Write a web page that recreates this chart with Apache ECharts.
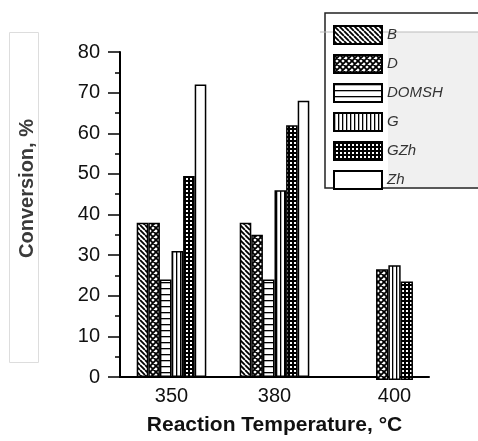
<!DOCTYPE html>
<html>
<head>
<meta charset="utf-8">
<script src="https://cdn.jsdelivr.net/npm/echarts@6/dist/echarts.min.js"></script>
<style>
  html, body { margin: 0; padding: 0; background: #fff; }
  #chart { width: 478px; height: 441px; }
</style>
</head>
<body>
<div id="chart"></div>
<script>
// data
const temps = ['350', '380', '400']
const seriesNames = ['B', 'D', 'DOMSH', 'G', 'GZh', 'Zh']
const valB = [38, 38, null]
const valD = [38, 35, 27]
const valDOMSH = [24, 24, null]
const valG = [31, 46, 28]
const valGZh = [49.5, 62, 24]
const valZh = [72, 68, null]
const yTicks = [0, 10, 20, 30, 40, 50, 60, 70, 80]

const allValues = [valB, valD, valDOMSH, valG, valGZh, valZh]

// hatch fills
function pattern(size, draw) {
  const c = document.createElement('canvas')
  c.width = size
  c.height = size
  const ctx = c.getContext('2d')
  ctx.fillStyle = '#fff'
  ctx.fillRect(0, 0, size, size)
  ctx.fillStyle = '#000'
  ctx.strokeStyle = '#000'
  draw(ctx, size)
  return { image: c, repeat: 'repeat' }
}

const fills = [
  // B: backslash hatch
  pattern(5, (ctx, s) => {
    ctx.lineWidth = 1.8
    ctx.beginPath()
    for (const k of [-s, 0, s]) { ctx.moveTo(k, 0); ctx.lineTo(k + s, s) }
    ctx.stroke()
  }),
  // D: cross hatch
  pattern(6, (ctx, s) => {
    ctx.lineWidth = 1.8
    ctx.beginPath()
    for (const k of [-s, 0, s]) {
      ctx.moveTo(k, 0); ctx.lineTo(k + s, s)
      ctx.moveTo(k, s); ctx.lineTo(k + s, 0)
    }
    ctx.stroke()
  }),
  // DOMSH: horizontal lines
  pattern(6, (ctx, s) => { ctx.fillRect(0, 0, s, 1.3) }),
  // G: vertical lines
  pattern(4, (ctx, s) => { ctx.fillRect(0, 0, 1.3, s) }),
  // GZh: dense grid
  pattern(4, (ctx, s) => { ctx.fillRect(0, 0, s, 2); ctx.fillRect(0, 0, 2, s) }),
  // Zh: plain
  '#ffffff'
]

// the last group only has some of the series, drawn side by side
const partialIdx = 2

const series = []
seriesNames.forEach((name, i) => {
  series.push({
    name: name,
    type: 'bar',
    xAxisIndex: 0,
    yAxisIndex: 0,
    barWidth: 11.6,
    barGap: '0%',
    itemStyle: { color: fills[i], borderColor: '#000', borderWidth: 1.5 },
    data: allValues[i].map((v, j) => (j === partialIdx ? null : v))
  })
})
seriesNames.forEach((name, i) => {
  if (allValues[i][partialIdx] == null) return
  series.push({
    name: name,
    type: 'bar',
    xAxisIndex: 1,
    yAxisIndex: 1,
    barWidth: 12.3,
    barGap: '0%',
    itemStyle: { color: fills[i], borderColor: '#000', borderWidth: 1.5 },
    data: allValues[i].map((v, j) => (j === partialIdx ? v : null))
  })
})

const chart = echarts.init(document.getElementById('chart'))
chart.setOption({
  animation: false,
  textStyle: { fontFamily: 'Liberation Sans, Arial, sans-serif' },
  grid: [
    { left: 120, right: 49, top: 52, bottom: 61 },
    { left: 137, right: 32, top: 52, bottom: 61 }
  ],
  graphic: [
    { type: 'rect', z: 0, shape: { x: 9.5, y: 32.5, width: 29, height: 330 },
      style: { fill: 'none', stroke: '#dddddd', lineWidth: 1 } },
    { type: 'rect', z: 0, shape: { x: 325, y: 13, width: 220, height: 175 },
      style: { fill: '#fff', stroke: '#222', lineWidth: 1.5 } },
    { type: 'rect', z: 0, shape: { x: 388, y: 32, width: 100, height: 155 },
      style: { fill: '#f0f0f0' } },
    { type: 'line', z: 0, shape: { x1: 320, y1: 32, x2: 478, y2: 32 },
      style: { stroke: '#bbbbbb', lineWidth: 1 } }
  ],
  legend: {
    orient: 'vertical',
    left: 333,
    top: 25,
    padding: 0,
    icon: 'rect',
    itemWidth: 48,
    itemHeight: 18,
    itemGap: 9,
    data: seriesNames,
    textStyle: { fontSize: 15, fontStyle: 'italic', color: '#333' }
  },
  xAxis: [
    {
      type: 'category',
      gridIndex: 0,
      data: temps,
      axisLine: { lineStyle: { color: '#000', width: 2 } },
      axisTick: { show: false },
      axisLabel: {
        fontSize: 20,
        color: '#111',
        margin: 9,
        formatter: (v, j) => (j === partialIdx ? '' : v)
      },
      name: 'Reaction Temperature, \u00B0C',
      nameLocation: 'middle',
      nameGap: 38,
      nameTextStyle: { fontSize: 21, fontWeight: 'bold', color: '#111' }
    },
    {
      type: 'category',
      gridIndex: 1,
      data: temps,
      axisLine: { show: false },
      axisTick: { show: false },
      axisLabel: {
        fontSize: 20,
        color: '#111',
        margin: 6,
        formatter: (v, j) => (j === partialIdx ? v : '')
      }
    }
  ],
  yAxis: [
    {
      type: 'value',
      gridIndex: 0,
      min: yTicks[0],
      max: yTicks[yTicks.length - 1],
      interval: yTicks[1] - yTicks[0],
      splitLine: { show: false },
      axisLine: { show: true, lineStyle: { color: '#000', width: 2 } },
      axisTick: { show: true, length: 12, lineStyle: { color: '#000', width: 1.5 } },
      minorTick: { show: true, splitNumber: 2, length: 5, lineStyle: { color: '#000', width: 1.5 } },
      axisLabel: { fontSize: 20, color: '#111', margin: 20 },
      name: 'Conversion, %',
      nameLocation: 'middle',
      nameGap: 83,
      nameTextStyle: { fontSize: 20, fontWeight: 'bold', color: '#3a3a3a', padding: [0, 0, 0, 52] }
    },
    {
      type: 'value',
      gridIndex: 1,
      min: yTicks[0],
      max: yTicks[yTicks.length - 1],
      show: false
    }
  ],
  series: series
})
</script>
</body>
</html>
